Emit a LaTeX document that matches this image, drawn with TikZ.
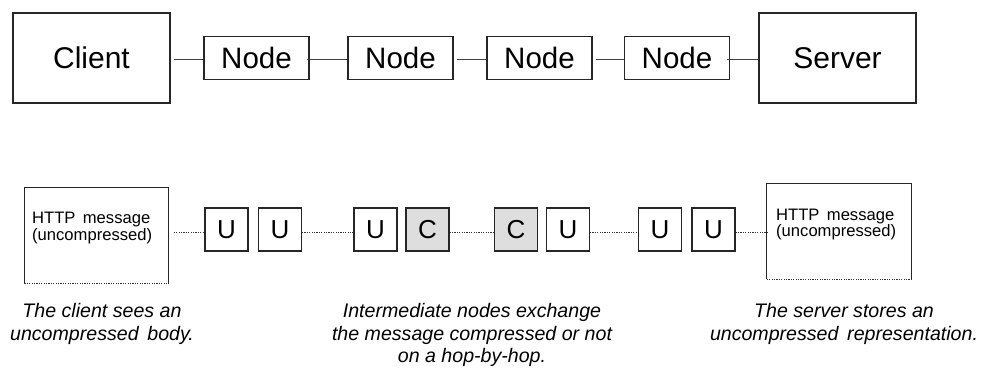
\documentclass[tikz,border=0pt]{standalone}
\usepackage{fontspec}
\setmainfont{Liberation Sans}
\begin{document}
\begin{tikzpicture}[x=1pt,y=-1pt,
  bigbox/.style={draw=black!85, line width=1.2pt, minimum width=157pt, minimum height=90pt,
    inner sep=0pt, font=\fontsize{30}{32}\selectfont},
  hopbox/.style={draw=black!85, line width=1.2pt, minimum width=105pt, minimum height=43pt,
    inner sep=0pt, font=\fontsize{29.5}{32}\selectfont},
  link/.style={draw=black!75, line width=1.2pt},
  cell/.style={draw=black!85, line width=1.1pt, minimum width=43pt, minimum height=43pt,
    inner sep=0pt, font=\fontsize{26}{28}\selectfont},
  zipped/.style={cell, fill=black!13},
  dotlink/.style={draw=black!80, line width=1pt, dash pattern=on 1.2pt off 1.2pt},
  msgframe/.style={minimum width=144pt, minimum height=95pt, inner sep=0pt},
  msgtext/.style={align=left, inner sep=0pt, font=\fontsize{16.6}{16.5}\selectfont},
  caption/.style={align=center, inner sep=0pt, anchor=north,
    font=\fontsize{19.6}{22.5}\selectfont\itshape}]

\useasboundingbox (0,0) rectangle (984,367);

% --- top row: client, intermediate hops, server ---
\node[bigbox] (client) at (91.5,58) {Client};
\node[hopbox] (n1) at (256.5,58.3) {Node};
\node[hopbox] (n2) at (400.5,58.3) {Node};
\node[hopbox] (n3) at (539.5,58.3) {Node};
\node[hopbox] (n4) at (677,58.3) {Node};
\node[bigbox] (server) at (837.5,58) {Server};

\draw[link] (client.east) ++(3,1.5) coordinate (c0) -- (c0 -| n1.west);
\draw[link] (n1.east) ++(-3,1.5) coordinate (c1) -- (c1 -| n2.west);
\draw[link] (n2.east) ++(3,1.5) coordinate (c2) -- (c2 -| n3.west);
\draw[link] (n3.east) ++(3,1.5) coordinate (c3) -- (c3 -| n4.west);
\draw[link] (n4.east) ++(-3,1.5) coordinate (c4) -- (c4 -| server.west);

% --- bottom row: message bodies and per-hop encoding ---
\node[msgframe] (msgL) at (96.5,235.5) {};
\draw[black!85, line width=1.1pt] (msgL.south west) -- (msgL.north west) -- (msgL.north east) -- (msgL.south east);
\draw[dotlink] (msgL.south west) -- (msgL.south east);
\node[msgtext, anchor=north west] (txtL) at (32,212) {HTTP\, message\\(uncompressed)};

\node[cell] (u1) at (226.5,229.5) {U};
\node[cell] (u2) at (280,229.5) {U};
\node[cell] (u3) at (375.5,229.5) {U};
\node[zipped] (c1b) at (427.5,229.5) {C};
\node[zipped] (c2b) at (516,229.5) {C};
\node[cell] (u4) at (568,229.5) {U};
\node[cell] (u5) at (660,229.5) {U};
\node[cell] (u6) at (713.5,229.5) {U};

\node[msgframe] (msgR) at (839,231.5) {};
\draw[black!85, line width=1.1pt] (msgR.south west) -- (msgR.north west) -- (msgR.north east) -- (msgR.south east);
\draw[dotlink] (msgR.south west) -- (msgR.south east);
\node[msgtext, anchor=north west] (txtR) at (776,208.5) {HTTP\, message\\(uncompressed)};

\draw[dotlink] (msgL.east |- u1.west) ++(5,2.5) coordinate (d0) -- (d0 -| u1.west);
\draw[dotlink] (u2.east) ++(0,2.5) coordinate (d1) -- (d1 -| u3.west);
\draw[dotlink] (c1b.east) ++(0,2.5) coordinate (d2) -- (d2 -| c2b.west);
\draw[dotlink] (u4.east) ++(0,2.5) coordinate (d3) -- (d3 -| u5.west);
\draw[dotlink] (u6.east) ++(0,2.5) coordinate (d4) -- (d4 -| msgR.west);

% --- captions ---
\node[caption] (capL) at (102,303.5) {The client sees an\\uncompressed\, body.};
\node[caption] (capM) at (472,303.5) {Intermediate nodes exchange\\the message compressed or not\\on a hop-by-hop.};
\node[caption] (capR) at (844,303.5) {The server stores an\\uncompressed\, representation.};
\end{tikzpicture}
\end{document}
